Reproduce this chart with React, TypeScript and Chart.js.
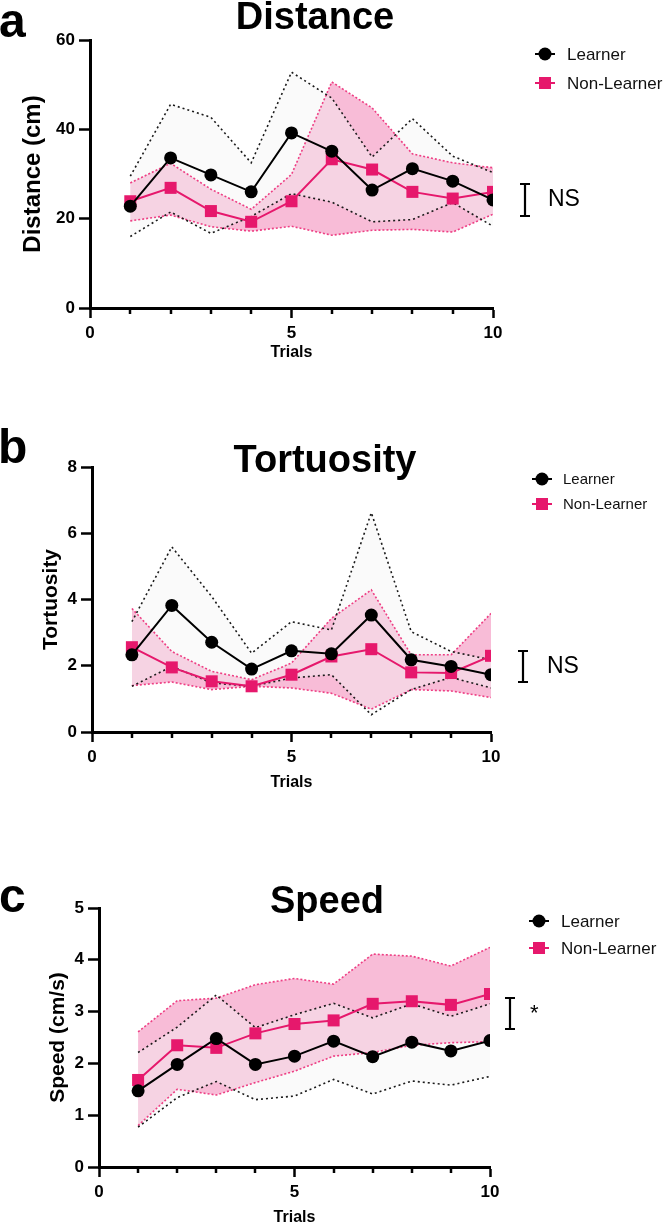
import React, { useEffect, useRef } from "react";
import { Chart, registerables } from "chart.js";

Chart.register(...registerables);

// ---------- data ----------
const trials = [1, 2, 3, 4, 5, 6, 7, 8, 9, 10];
const legendLabels = ["Learner", "Non-Learner"];

const distLearnerMean = [22.8, 33.6, 29.8, 26.0, 39.2, 35.1, 26.4, 31.2, 28.4, 24.2];
const distLearnerUpper = [29.5, 45.6, 42.7, 32.5, 52.8, 47.0, 33.8, 42.4, 34.0, 30.3];
const distLearnerLower = [16.0, 21.5, 16.7, 20.5, 25.6, 23.7, 19.3, 19.8, 23.6, 18.3];
const distNLMean = [23.9, 26.9, 21.7, 19.3, 23.9, 33.3, 31.0, 26.0, 24.5, 26.0];
const distNLUpper = [28.0, 32.4, 26.6, 22.1, 29.9, 50.6, 44.8, 34.5, 32.5, 31.4];
const distNLLower = [19.5, 20.8, 18.2, 17.2, 18.3, 16.3, 17.4, 17.6, 17.0, 21.0];

const tortLearnerMean = [2.33, 3.82, 2.71, 1.9, 2.45, 2.36, 3.53, 2.18, 1.98, 1.73];
const tortLearnerUpper = [3.33, 5.59, 4.09, 2.38, 3.33, 3.08, 6.62, 3.03, 2.43, 2.18];
const tortLearnerLower = [1.38, 1.98, 1.48, 1.38, 1.63, 1.73, 0.52, 1.28, 1.65, 1.33];
const tortNLMean = [2.56, 1.95, 1.53, 1.38, 1.73, 2.28, 2.5, 1.8, 1.78, 2.3];
const tortNLUpper = [3.73, 2.43, 1.83, 1.58, 2.08, 3.43, 4.29, 2.33, 2.33, 3.58];
const tortNLLower = [1.4, 1.51, 1.28, 1.38, 1.33, 1.17, 0.69, 1.28, 1.24, 1.04];

const speedLearnerMean = [1.47, 1.98, 2.48, 1.98, 2.14, 2.43, 2.13, 2.41, 2.24, 2.44];
const speedLearnerUpper = [2.21, 2.7, 3.32, 2.69, 2.94, 3.16, 2.88, 3.15, 2.91, 3.15];
const speedLearnerLower = [0.77, 1.34, 1.65, 1.3, 1.37, 1.69, 1.41, 1.66, 1.58, 1.75];
const speedNLMean = [1.68, 2.35, 2.3, 2.58, 2.76, 2.83, 3.15, 3.2, 3.13, 3.34];
const speedNLUpper = [2.61, 3.21, 3.26, 3.52, 3.64, 3.53, 4.11, 4.07, 3.88, 4.24];
const speedNLLower = [0.8, 1.5, 1.39, 1.63, 1.85, 2.14, 2.21, 2.35, 2.4, 2.42];

// ---------- styles ----------
const FONT = "'Liberation Sans', Arial, Helvetica, sans-serif";
const PINK = "#e6186c";
const PINK_DOT = "#ee3f84";
const PINK_FILL = "rgba(236, 80, 150, 0.38)";
const GRAY_FILL = "rgba(244, 244, 244, 0.42)";
const BLACK_DOT = "#1a1a1a";

type PanelCfg = {
  top: number;
  height: number;
  plot: { left: number; right: number; top: number; bottom: number };
  xAxisH: number;
  yMax: number;
  yStep: number;
  yTitle: string;
  yTitleSize: number;
  yTitleCenter: number;
  title: string;
  titleX: number;
  titleBase: number;
  letter: string;
  letterX: number;
  letterBase: number;
  legend: { x: number; y1: number; y2: number; size: number; gap: number };
  bracket: { x: number; y1: number; y2: number; label: string; labelX: number; labelY: number; labelSize: number };
  lMean: number[];
  lUpper: number[];
  lLower: number[];
  nMean: number[];
  nUpper: number[];
  nLower: number[];
};

const panels: PanelCfg[] = [
  {
    top: 0,
    height: 400,
    plot: { left: 90, right: 493, top: 40, bottom: 308 },
    xAxisH: 53,
    yMax: 60,
    yStep: 20,
    yTitle: "Distance (cm)",
    yTitleSize: 24,
    yTitleCenter: 33,
    title: "Distance",
    titleX: 315,
    titleBase: 29,
    letter: "a",
    letterX: -1,
    letterBase: 37,
    legend: { x: 545, y1: 54, y2: 83, size: 17, gap: 22 },
    bracket: { x: 525, y1: 184, y2: 216, label: "NS", labelX: 548, labelY: 200, labelSize: 23 },
    lMean: distLearnerMean,
    lUpper: distLearnerUpper,
    lLower: distLearnerLower,
    nMean: distNLMean,
    nUpper: distNLUpper,
    nLower: distNLLower,
  },
  {
    top: 400,
    height: 400,
    plot: { left: 92, right: 491, top: 467, bottom: 732 },
    xAxisH: 59,
    yMax: 8,
    yStep: 2,
    yTitle: "Tortuosity",
    yTitleSize: 21,
    yTitleCenter: 51,
    title: "Tortuosity",
    titleX: 325,
    titleBase: 472,
    letter: "b",
    letterX: -2,
    letterBase: 463,
    legend: { x: 542, y1: 479, y2: 504, size: 15, gap: 21 },
    bracket: { x: 523, y1: 651, y2: 682, label: "NS", labelX: 547, labelY: 667, labelSize: 23 },
    lMean: tortLearnerMean,
    lUpper: tortLearnerUpper,
    lLower: tortLearnerLower,
    nMean: tortNLMean,
    nUpper: tortNLUpper,
    nLower: tortNLLower,
  },
  {
    top: 800,
    height: 426,
    plot: { left: 99, right: 490, top: 908, bottom: 1167 },
    xAxisH: 59,
    yMax: 5,
    yStep: 1,
    yTitle: "Speed (cm/s)",
    yTitleSize: 21,
    yTitleCenter: 58,
    title: "Speed",
    titleX: 327,
    titleBase: 913,
    letter: "c",
    letterX: -1,
    letterBase: 912,
    legend: { x: 539, y1: 921, y2: 948, size: 17, gap: 22 },
    bracket: { x: 510, y1: 998, y2: 1029, label: "*", labelX: 530, labelY: 1014, labelSize: 22 },
    lMean: speedLearnerMean,
    lUpper: speedLearnerUpper,
    lLower: speedLearnerLower,
    nMean: speedNLMean,
    nUpper: speedNLUpper,
    nLower: speedNLLower,
  },
];

function makeExtras(cfg: PanelCfg) {
  const T = cfg.top;
  return {
    id: "extras" + cfg.letter,
    afterDraw(chart: any) {
      const ctx = chart.ctx as CanvasRenderingContext2D;
      const xs = chart.scales.x;
      const yb = chart.chartArea.bottom;
      ctx.save();
      // minor x ticks
      ctx.strokeStyle = "#000";
      ctx.lineWidth = 2.5;
      trials.forEach((t) => {
        if (t % 5 !== 0) {
          const px = Math.round(xs.getPixelForValue(t));
          ctx.beginPath();
          ctx.moveTo(px, yb);
          ctx.lineTo(px, yb + 6);
          ctx.stroke();
        }
      });
      // panel letter
      ctx.fillStyle = "#000";
      ctx.textBaseline = "alphabetic";
      ctx.textAlign = "left";
      ctx.font = `bold 48px ${FONT}`;
      ctx.fillText(cfg.letter, cfg.letterX, cfg.letterBase - T);
      // title
      ctx.textAlign = "center";
      ctx.font = `bold 38px ${FONT}`;
      ctx.fillText(cfg.title, cfg.titleX, cfg.titleBase - T);
      // legend
      const lg = cfg.legend;
      const items = [
        { y: lg.y1 - T, color: "#000", style: "circle", text: legendLabels[0] },
        { y: lg.y2 - T, color: PINK, style: "rect", text: legendLabels[1] },
      ];
      items.forEach((it) => {
        ctx.strokeStyle = it.color;
        ctx.fillStyle = it.color;
        ctx.lineWidth = 2;
        ctx.beginPath();
        ctx.moveTo(lg.x - 10, it.y);
        ctx.lineTo(lg.x + 10, it.y);
        ctx.stroke();
        if (it.style === "circle") {
          ctx.beginPath();
          ctx.arc(lg.x, it.y, 6.5, 0, Math.PI * 2);
          ctx.fill();
        } else {
          ctx.fillRect(lg.x - 6, it.y - 6, 12, 12);
        }
        ctx.fillStyle = "#111";
        ctx.textAlign = "left";
        ctx.textBaseline = "middle";
        ctx.font = `${lg.size}px ${FONT}`;
        ctx.fillText(it.text, lg.x + lg.gap, it.y + 1);
      });
      // significance bracket
      const b = cfg.bracket;
      ctx.strokeStyle = "#000";
      ctx.lineWidth = 2.2;
      ctx.beginPath();
      ctx.moveTo(b.x - 5, b.y1 - T);
      ctx.lineTo(b.x + 5, b.y1 - T);
      ctx.moveTo(b.x, b.y1 - T);
      ctx.lineTo(b.x, b.y2 - T);
      ctx.moveTo(b.x - 5, b.y2 - T);
      ctx.lineTo(b.x + 5, b.y2 - T);
      ctx.stroke();
      ctx.fillStyle = "#000";
      ctx.textAlign = "left";
      ctx.textBaseline = "middle";
      ctx.font = `${b.labelSize}px ${FONT}`;
      ctx.fillText(b.label, b.labelX, b.labelY - T);
      ctx.restore();
    },
  };
}

function Panel({ cfg }: { cfg: PanelCfg }) {
  const ref = useRef<HTMLCanvasElement>(null);
  useEffect(() => {
    const T = cfg.top;
    const mk = (vals: number[]) => trials.map((t, i) => ({ x: t, y: vals[i] }));
    const chart = new Chart(ref.current as HTMLCanvasElement, {
      type: "line",
      data: {
        datasets: [
          {
            label: legendLabels[0],
            data: mk(cfg.lMean),
            borderColor: "#000",
            backgroundColor: "#000",
            borderWidth: 2,
            pointStyle: "circle",
            pointRadius: 6.5,
            pointBorderWidth: 0,
            fill: false,
            order: 0,
          },
          {
            label: legendLabels[1],
            data: mk(cfg.nMean),
            borderColor: PINK,
            backgroundColor: PINK,
            borderWidth: 2,
            pointStyle: "rect",
            pointRadius: 8.5,
            pointBorderWidth: 0,
            fill: false,
            order: 1,
          },
          {
            label: "Learner upper",
            data: mk(cfg.lUpper),
            borderColor: BLACK_DOT,
            borderDash: [2, 3],
            borderWidth: 1.6,
            pointRadius: 0,
            fill: 3,
            backgroundColor: GRAY_FILL,
            order: 4,
          },
          {
            label: "Learner lower",
            data: mk(cfg.lLower),
            borderColor: BLACK_DOT,
            borderDash: [2, 3],
            borderWidth: 1.6,
            pointRadius: 0,
            fill: false,
            order: 4,
          },
          {
            label: "Non-Learner upper",
            data: mk(cfg.nUpper),
            borderColor: PINK_DOT,
            borderDash: [2, 2],
            borderWidth: 1.6,
            pointRadius: 0,
            fill: 5,
            backgroundColor: PINK_FILL,
            order: 5,
          },
          {
            label: "Non-Learner lower",
            data: mk(cfg.nLower),
            borderColor: PINK_DOT,
            borderDash: [2, 2],
            borderWidth: 1.6,
            pointRadius: 0,
            fill: false,
            order: 5,
          },
        ] as any,
      },
      options: {
        responsive: false,
        devicePixelRatio: 1,
        animation: false,
        events: [],
        layout: {
          padding: {
            left: 0,
            top: cfg.plot.top - T,
            right: 666 - cfg.plot.right,
            bottom: T + cfg.height - (cfg.plot.bottom + cfg.xAxisH),
          },
        },
        plugins: {
          legend: { display: false },
          tooltip: { enabled: false },
          title: { display: false },
          filler: { drawTime: "beforeDatasetsDraw", propagate: false },
        } as any,
        scales: {
          x: {
            type: "linear",
            min: 0,
            max: 10,
            afterFit: (s: any) => {
              s.height = cfg.xAxisH;
            },
            ticks: {
              stepSize: 5,
              padding: 5,
              color: "#000",
              font: { family: FONT, size: 17, weight: "bold" },
              maxRotation: 0,
            },
            grid: {
              drawOnChartArea: false,
              drawTicks: true,
              tickLength: 10,
              tickWidth: 2.5,
              tickColor: "#000",
            },
            border: { display: true, color: "#000", width: 3 },
            title: {
              display: true,
              text: "Trials",
              color: "#000",
              font: { family: FONT, size: 16, weight: "bold", lineHeight: 1 },
              padding: { top: 0, bottom: 0 },
            },
          },
          y: {
            type: "linear",
            min: 0,
            max: cfg.yMax,
            afterFit: (s: any) => {
              s.width = cfg.plot.left;
            },
            ticks: {
              stepSize: cfg.yStep,
              padding: 4,
              color: "#000",
              font: { family: FONT, size: 17, weight: "bold" },
            },
            grid: {
              drawOnChartArea: false,
              drawTicks: true,
              tickLength: 11,
              tickWidth: 2.5,
              tickColor: "#000",
            },
            border: { display: true, color: "#000", width: 3 },
            title: {
              display: true,
              text: cfg.yTitle,
              color: "#000",
              font: { family: FONT, size: cfg.yTitleSize, weight: "bold", lineHeight: 1 },
              padding: { top: cfg.yTitleCenter - cfg.yTitleSize / 2, bottom: 0 },
            },
          },
        },
        elements: { line: { tension: 0 } },
      } as any,
      plugins: [makeExtras(cfg)],
    });
    return () => chart.destroy();
  }, [cfg]);
  return (
    <canvas
      ref={ref}
      width={666}
      height={cfg.height}
      style={{ position: "absolute", left: 0, top: cfg.top, width: 666, height: cfg.height }}
    />
  );
}

export default function App() {
  return (
    <div
      style={{
        position: "absolute",
        left: 0,
        top: 0,
        width: 666,
        height: 1226,
        overflow: "hidden",
        background: "#fff",
      }}
    >
      {panels.map((p) => (
        <Panel key={p.letter} cfg={p} />
      ))}
    </div>
  );
}
